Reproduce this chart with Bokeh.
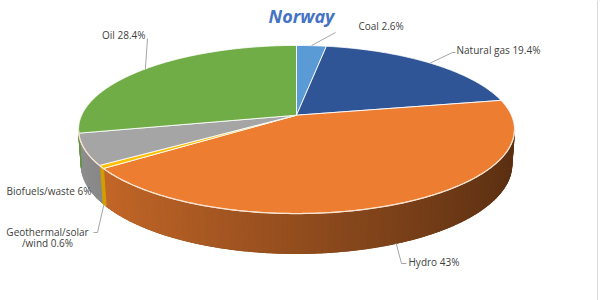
import numpy as np
from bokeh.plotting import figure
from bokeh.models import Range1d, Span
from bokeh.core.properties import value
from bokeh.embed import file_html
from bokeh.resources import INLINE

# ---------------- data ----------------
chart_title = "Norway"
sources = ["Coal", "Natural gas", "Hydro", "Geothermal/solar /wind", "Biofuels/waste", "Oil"]
shares = [2.6, 19.4, 43.0, 0.6, 6.0, 28.4]
colors = ["#5B9BD5", "#2F5597", "#ED7D31", "#FFC000", "#A5A5A5", "#70AD47"]

# ---------------- 3D pie projection (pixel scale G) ----------------
W, H = 600, 300
G = 214.8            # px per unit radius
CX, CY = 296.0, 114.7  # pixel position of pie centre
K = 0.17             # perspective strength
SE, CE = 0.38, 0.925 # sin / cos of elevation
Q = SE * K / CE
DEPTH = 0.175


def proj(theta_deg, z=0.0):
    t = np.radians(theta_deg)
    X, Y = np.sin(t), np.cos(t)
    den = 1 + Y * K - z * Q
    return X / den, (Y * SE + z * CE) / den


def px(x, y):
    """layout pixel -> plot units"""
    return (x - CX) / G, (CY - y) / G


def shade(hexcol, f):
    r, g, b = (int(hexcol[i:i + 2], 16) for i in (1, 3, 5))
    return "#%02x%02x%02x" % tuple(int(max(0, min(255, c * f))) for c in (r, g, b))


def side_factor(theta_deg):
    return 0.62 - 0.25 * np.sin(np.radians(theta_deg))


p = figure(width=W, height=H, x_range=Range1d(-CX / G, (W - CX) / G),
           y_range=Range1d((CY - H) / G, CY / G), output_backend="svg",
           toolbar_location=None, x_axis_location=None, y_axis_location=None,
           min_border=0, outline_line_color=None, background_fill_color="white",
           border_fill_color="white")
p.grid.visible = False

bounds = np.concatenate([[0], np.cumsum(shares)]) / 100.0 * 360.0
th_r = np.degrees(np.arccos(-K))
th_l = 360 - th_r

# side faces: a base polygon per slice, then shaded strips over it
bx, by, bc = [], [], []
sx, sy, sc = [], [], []
for i, col in enumerate(colors):
    a, b = max(bounds[i], th_r), min(bounds[i + 1], th_l)
    if a >= b:
        continue
    ts = np.linspace(a, b, max(2, int(np.ceil((b - a) / 0.5))) + 1)
    xt, yt = proj(ts)
    xb, yb = proj(ts[::-1], -DEPTH)
    bx.append(list(xt) + list(xb))
    by.append(list(yt) + list(yb))
    bc.append(shade(col, side_factor((a + b) / 2)))
    n = int(np.ceil((b - a) / 1.5))
    ts = np.linspace(a, b, n + 1)
    for t0, t1 in zip(ts[:-1], ts[1:]):
        tt = np.linspace(t0, t1, 4)
        x0, y0 = proj(tt)
        x1, y1 = proj(tt[::-1], -DEPTH)
        sx.append(list(x0) + list(x1))
        sy.append(list(y0) + list(y1))
        sc.append(shade(col, side_factor((t0 + t1) / 2)))
p.patches(bx, by, fill_color=bc, line_color=bc, line_width=1)
p.patches(sx, sy, fill_color=sc, line_color=sc, line_width=1.2)

# top faces
tx, ty = [], []
for i in range(len(shares)):
    ts = np.linspace(bounds[i], bounds[i + 1], max(3, int((bounds[i + 1] - bounds[i]) / 0.5)))
    xs, ys = proj(ts)
    tx.append([0.0] + list(xs))
    ty.append([0.0] + list(ys))
p.patches(tx, ty, fill_color=colors, line_color="white", line_width=1, line_alpha=0.85)

# front bevel highlight
ts = np.linspace(th_r, th_l, 200)
hx, hy = proj(ts)
p.line(hx, hy, line_color="#FBE3CF", line_width=1.3)

# ---------------- labels ----------------
mids = (bounds[:-1] + bounds[1:]) / 2
label_texts = [f"{s} {v:g}%" for s, v in zip(sources, shares)]

TXT = dict(text_font=value("Open Sans"), text_font_size="10px", text_color="#404040",
           text_baseline="middle")
LEAD = dict(line_color="#A6A6A6", line_width=1)

# Coal
ax, ay = proj(mids[0])
ex, ey = px(335, 32)
p.line([ax, ex], [ay, ey], **LEAD)
x, y = px(358, 25)
p.text([x], [y], text=[label_texts[0]], text_align="left", **TXT)

# Natural gas
ax, ay = proj(mids[1])
e1 = px(452, 52); e2 = px(455, 52)
p.line([ax, e1[0], e2[0]], [ay, e1[1], e2[1]], **LEAD)
x, y = px(456, 49)
p.text([x], [y], text=[label_texts[1]], text_align="left", **TXT)

# Hydro
ax, ay = proj(mids[2], -DEPTH)
e1 = px(401, 263); e2 = px(406, 263)
p.line([ax, e1[0], e2[0]], [ay, e1[1], e2[1]], **LEAD)
x, y = px(408, 261)
p.text([x], [y], text=[label_texts[2]], text_align="left", **TXT)

# Geothermal/solar/wind
ax, ay = proj(mids[3], -DEPTH)
e1 = px(97, 232); e2 = px(93, 232)
p.line([ax, e1[0], e2[0]], [ay, e1[1], e2[1]], **LEAD)
g1, g2 = sources[3].split(" ")
x, y = px(47, 231)
p.text([x], [y], text=[g1], text_align="center", **TXT)
x, y = px(47, 242)
p.text([x], [y], text=[f"{g2} {shares[3]:g}%"], text_align="center", **TXT)

# Biofuels/waste
x, y = px(91, 190)
p.text([x], [y], text=[label_texts[4]], text_align="right", **TXT)

# Oil
ax, ay = proj(mids[5])
e1 = px(147, 38)
p.line([ax, e1[0]], [ay, e1[1]], **LEAD)
x, y = px(145, 34)
p.text([x], [y], text=[label_texts[5]], text_align="right", **TXT)

# title
x, y = px(301, 15)
p.text([x], [y], text=[chart_title], text_align="center", text_baseline="middle",
       text_font=value("Open Sans"), text_font_style="bold italic",
       text_font_size="18px", text_color="#4472C4")

# sheet edge line at right
p.add_layout(Span(location=(597 - CX) / G, dimension="height",
                  line_color="#D9D9D9", line_width=1))

open("out.html", "w").write(file_html(p, INLINE))
